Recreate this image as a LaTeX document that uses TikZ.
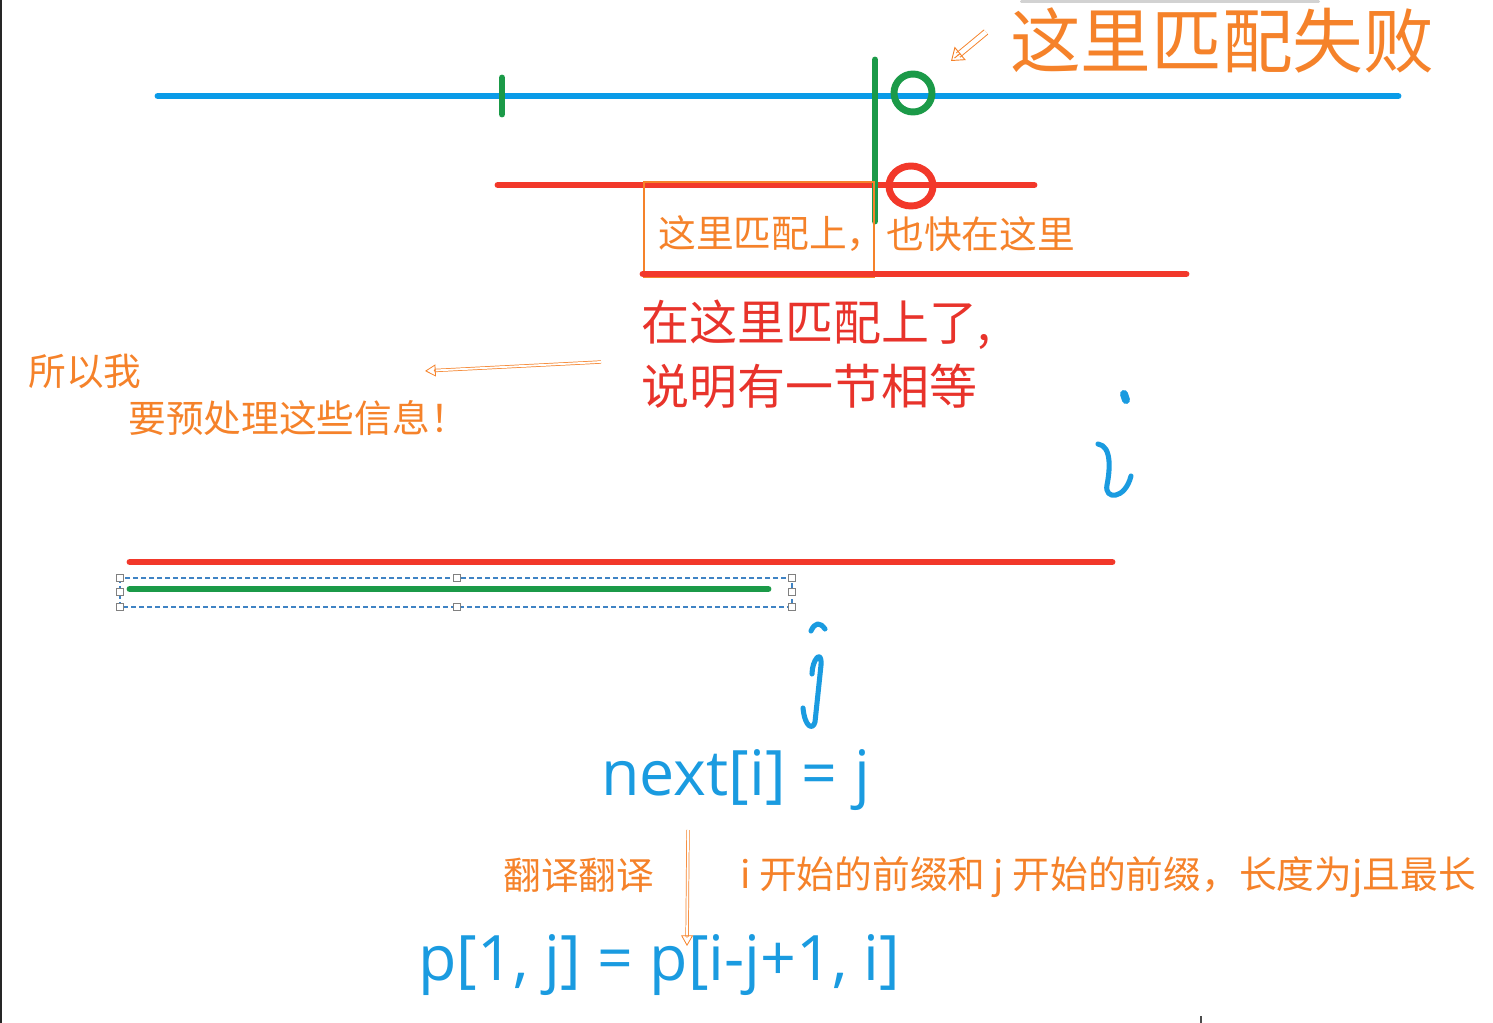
\documentclass[tikz,border=0pt]{standalone}
\usepackage{fontspec}
\setmainfont{Noto Sans CJK SC}
\newfontfamily\formulafont{Open Sans}
\usepackage{xcolor}
\usepackage{tikz}
\usetikzlibrary{arrows.meta,positioning,calc}

\definecolor{lineblue}{HTML}{0A9BE8}
\definecolor{linegreen}{HTML}{1B9A48}
\definecolor{linered}{HTML}{F2382A}
\definecolor{noteorange}{HTML}{F5822A}
\definecolor{formulablue}{HTML}{1A9BE0}
\definecolor{notered}{HTML}{E8332B}
\definecolor{selblue}{HTML}{3F83C4}

\begin{document}
\begin{tikzpicture}[x=0.75pt, y=-0.75pt,
  bar/.style={line width=5.2pt, line cap=round},
  note/.style={text=noteorange, font=\fontsize{28.3}{31}\selectfont, inner sep=0pt, anchor=west},
  bignote/.style={note, font=\fontsize{53}{56}\selectfont},
  rednote/.style={text=notered, font=\fontsize{36}{40}\selectfont, inner sep=0pt, anchor=west},
  formula/.style={text=formulablue, font=\formulafont\fontsize{47}{50}\selectfont, inner sep=0pt, anchor=west},
  hand/.style={draw=formulablue, line width=3.8pt, line cap=round, line join=round},
  shaft/.style={draw=noteorange, double=white, double distance=1.4pt, line width=0.55pt, shorten >=7pt},
  tip/.style={draw=noteorange, line width=0.6pt, -{Triangle[open, length=8pt, width=9pt]}},
  fatshaft/.style={shaft, double distance=3.5pt, line width=0.7pt, shorten >=7pt},
  fattip/.style={tip, line width=0.7pt, -{Triangle[open, length=9pt, width=13pt]}},
  handle/.style={draw=gray, fill=white, line width=0.6pt, minimum size=5pt, inner sep=0pt}]
  \useasboundingbox (0,0) rectangle (1493,1023);

  % Frame bits of the screenshot
  \draw[black!85, line width=1.5pt] (1,0) -- (1,1023);
  \fill[gray!35, rounded corners=1pt] (1020,0) rectangle (1320,3);
  \draw[black!70, line width=1pt] (1201,1016) -- (1201,1023);

  % Text string and first pattern
  \draw[bar, lineblue] (158,96) -- (1398,96);
  \draw[bar, linegreen] (502,78) -- (502,114);
  \draw[bar, linered] (498,185) -- (1034,185);
  \draw[bar, linegreen] (875,60) -- (875,221);
  \draw[linegreen, line width=5.2pt] (913,93) circle (19);
  \draw[linered, line width=5.2pt] (911,186) ellipse (22 and 20);

  % Failure label
  \node[bignote] (fail) at (1010,40) {这里匹配失败};
  \coordinate (failtail) at (986,32);
  \coordinate (failtip) at (951,61);
  \draw[fatshaft] (failtail) -- (failtip);
  \draw[fattip] ($(failtail)!0.9!(failtip)$) -- (failtip);

  % Shifted pattern
  \draw[noteorange, line width=1.1pt] (644,182) rectangle (874,277);
  \draw[bar, linered] (643,274) -- (1186,274);
  \node[note] (hitleft) at (658,234) {这里匹配上，};
  \node[note] (hitright) at (886,234) {也快在这里};

  \node[rednote] (match) at (641,325) {在这里匹配上了,};
  \node[rednote] (equal) at (641,386) {说明有一节相等};

  % So we preprocess
  \node[note] (so) at (28,371) {所以我};
  \node[note] (prep) at (128,418) {要预处理这些信息！};
  \coordinate (soarrowtail) at (601,362);
  \coordinate (soarrowtip) at (425,371);
  \draw[shaft] (soarrowtail) -- (soarrowtip);
  \draw[tip] ($(soarrowtail)!0.95!(soarrowtip)$) -- (soarrowtip);

  % handwritten i
  \draw[hand, line width=6pt] (1124,394) -- (1126,400);
  \draw[hand] (1098,444) .. controls (1112,446) and (1110,470) .. (1107,485)
    .. controls (1104,500) and (1125,500) .. (1131,476);

  % prefix i and prefix j
  \draw[bar, linered] (130,562) -- (1112,562);
  \draw[selblue, line width=0.9pt, dash pattern=on 3.5pt off 2.5pt] (120,578) rectangle (792,607);
  \draw[bar, linegreen] (130,589) -- (768,589);
  \foreach \hx/\hy in {120/578, 457/578, 792/578, 120/592, 792/592, 120/607, 457/607, 792/607}
    \node[handle] at (\hx,\hy) {};

  % handwritten j
  \draw[hand] (811,631) .. controls (815,622) and (820,622) .. (825,629);
  \draw[hand] (812,674) .. controls (812,660) and (822,648) .. (821,665)
    -- (815,722) .. controls (813,730) and (805,728) .. (803,708);

  % Formulas
  \node[formula] (next) at (601,780) {next[i] = j};
  \node[note] (translate) at (503,875) {翻译翻译};
  \node[note] (meaning) at (740,877) {i 开始的前缀和 j 开始的前缀，长度为j且最长};
  \node[formula] (equiv) at (418,965) {p[1, j] = p[i-j+1, i]};
  \coordinate (transtail) at (688,830);
  \coordinate (transtip) at (687,946);
  \draw[shaft] (transtail) -- (transtip);
  \draw[tip] ($(transtail)!0.93!(transtip)$) -- (transtip);
\end{tikzpicture}
\end{document}
